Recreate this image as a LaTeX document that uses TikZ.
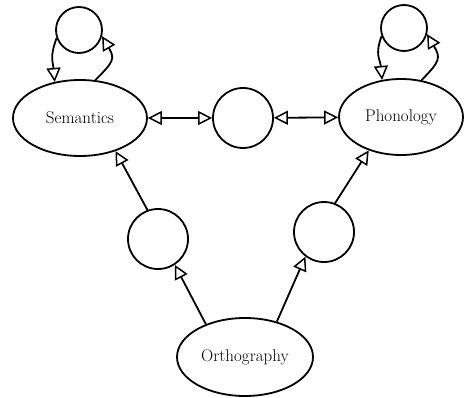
\documentclass[tikz,border=0pt]{standalone}
\usepackage{tikz}
\usetikzlibrary{shapes.geometric}
\usetikzlibrary{arrows.meta,positioning}

\begin{document}
\begin{tikzpicture}
  [x=1pt,y=1pt,line width=1.8pt,>={Triangle[open,length=14pt,width=14pt,line width=1.5pt]},
   layer/.style={ellipse,draw,inner sep=0pt,font=\fontsize{17}{19}\selectfont},
   unit/.style={circle,draw,inner sep=0pt}]
  \useasboundingbox (0,0) rectangle (466,397);
  \node[layer,minimum width=134pt,minimum height=76pt] (sem) at (80,279)  {Semantics};
  \node[layer,minimum width=124pt,minimum height=76pt] (pho) at (401,280) {Phonology};
  \node[layer,minimum width=136pt,minimum height=78pt] (ort) at (245,40)  {Orthography};
  \node[unit,minimum size=46pt] (cleanS) at (79,367)  {};
  \node[unit,minimum size=46pt] (cleanP) at (404,369) {};
  \node[unit,minimum size=60pt] (hidSP)  at (243,279) {};
  \node[unit,minimum size=60pt] (hidOS)  at (158,158) {};
  \node[unit,minimum size=60pt] (hidOP)  at (324,165) {};

  \foreach \from/\to in {hidSP/sem,hidSP/pho}
    \draw[<->] (\from) -- (\to);
  \foreach \from/\to in {ort.140/hidOS.-57,hidOS.110/sem.-43,ort.48/hidOP.-127,hidOP.69/pho.-134}
    \draw[->] (\from) -- (\to);

  % clean-up loops
  \draw[->] (sem.68) to[out=45,in=-60,looseness=1.5] (cleanS.-15);
  \draw[->] (cleanS.200) to[out=250,in=95,looseness=1.2] (sem.125);
  \draw[->] (pho.61) to[out=45,in=-60,looseness=1.5] (cleanP.-15);
  \draw[->] (cleanP.200) to[out=250,in=95,looseness=1.2] (pho.117);
\end{tikzpicture}
\end{document}
